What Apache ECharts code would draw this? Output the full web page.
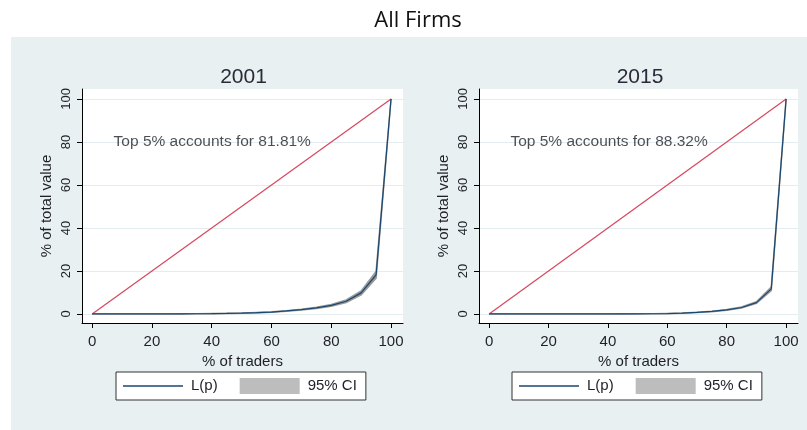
<!DOCTYPE html>
<html>
<head>
<meta charset="utf-8">
<script src="https://cdn.jsdelivr.net/npm/echarts@6/dist/echarts.min.js"></script>
<style>
  html, body { margin: 0; padding: 0; background: #fff; }
  #main { width: 807px; height: 430px; }
</style>
</head>
<body>
<div id="main"></div>
<script>
// 数据：% of traders (x), L(p) and 95% CI for each year
var pctTraders = [0, 5, 10, 15, 20, 25, 30, 35, 40, 45, 50, 55, 60, 65, 70, 75, 80, 85, 90, 95, 100];

var lp2001 = [0, 0, 0, 0, 0, 0.02, 0.05, 0.1, 0.15, 0.25, 0.38, 0.6, 0.9, 1.4, 2.0, 2.8, 4.0, 5.9, 9.8, 18.19, 100];
var lo2001 = [0, 0, 0, 0, 0, 0.01, 0.03, 0.07, 0.1, 0.18, 0.3, 0.5, 0.78, 1.25, 1.8, 2.5, 3.6, 5.3, 8.9, 16.6, 100];
var hi2001 = [0, 0, 0, 0, 0, 0.03, 0.07, 0.13, 0.2, 0.32, 0.46, 0.7, 1.02, 1.55, 2.2, 3.1, 4.4, 6.5, 10.7, 19.8, 100];

var lp2015 = [0, 0, 0, 0, 0, 0, 0, 0.01, 0.02, 0.04, 0.07, 0.1, 0.2, 0.4, 0.75, 1.2, 1.9, 3.0, 5.3, 11.68, 100];
var lo2015 = [0, 0, 0, 0, 0, 0, 0, 0, 0.01, 0.03, 0.05, 0.08, 0.16, 0.34, 0.66, 1.08, 1.72, 2.75, 4.9, 10.9, 100];
var hi2015 = [0, 0, 0, 0, 0, 0, 0, 0.02, 0.03, 0.05, 0.09, 0.12, 0.24, 0.46, 0.84, 1.32, 2.08, 3.25, 5.7, 12.5, 100];

var equalityX = [0, 100];
var equalityY = [0, 100];

var years = ['2001', '2015'];
var notes = ['Top 5% accounts for 81.81%', 'Top 5% accounts for 88.32%'];
var noteX = [7, 7];
var noteY = [80, 80];
var tickValues = [0, 20, 40, 60, 80, 100];

var chart = echarts.init(document.getElementById('main'));

var navy = '#1a476f';
var red = '#d6475f';
var ciGrey = '#bdbdbd';
var txt = '#1f1f28';
var font = 'Liberation Sans, Arial, sans-serif';

function pairs(xs, ys) {
    var out = [];
    for (var i = 0; i < xs.length; i++) out.push([xs[i], ys[i]]);
    return out;
}

// CI 带：上界 + 反向的下界，组成多边形
function bandRenderer(lo, hi) {
    return function (params, api) {
        var pts = [];
        for (var i = 0; i < pctTraders.length; i++) pts.push(api.coord([pctTraders[i], hi[i]]));
        for (var j = pctTraders.length - 1; j >= 0; j--) pts.push(api.coord([pctTraders[j], lo[j]]));
        return {
            type: 'polygon',
            shape: { points: pts },
            style: { fill: '#8f8f8f', stroke: '#9a9a9a', lineWidth: 1.5 }
        };
    };
}

var grids = [
    { left: 82, right: 404, top: 89, bottom: 107 },
    { left: 479, right: 9, top: 89, bottom: 107 }
];
var panelCenter = [238.5, 635];
var legendLeft = [116, 512];

var lpData = [lp2001, lp2015];
var loData = [lo2001, lo2015];
var hiData = [hi2001, hi2015];

var xAxes = [], yAxes = [], series = [], titles = [], legends = [];

titles.push({
    text: 'All Firms', left: 413, textAlign: 'center', top: 5,
    textStyle: { fontFamily: 'Open Sans, sans-serif', fontWeight: 'normal', fontSize: 22, color: '#111' }
});

for (var g = 0; g < 2; g++) {
    grids[g].show = true;
    grids[g].backgroundColor = '#fff';
    grids[g].borderWidth = 0;

    titles.push({
        text: years[g], left: panelCenter[g], textAlign: 'center', top: 62,
        textStyle: { fontFamily: font, fontWeight: 'normal', fontSize: 21, color: '#2a2a3a' }
    });

    xAxes.push({
        gridIndex: g, type: 'value', min: -3.4, max: 104,
        name: '% of traders', nameLocation: 'middle', nameGap: 27,
        nameTextStyle: { fontFamily: font, fontSize: 15, color: txt },
        axisLine: { onZero: false, lineStyle: { color: '#000', width: 1 } },
        axisTick: { length: 5, customValues: tickValues, lineStyle: { color: '#000' } },
        axisLabel: { customValues: tickValues, margin: 11, fontFamily: font, fontSize: 15, color: txt },
        splitLine: { show: false }
    });

    yAxes.push({
        gridIndex: g, type: 'value', min: -4.2, max: 104.6,
        name: '% of total value', nameLocation: 'middle', nameGap: 28,
        nameTextStyle: { fontFamily: font, fontSize: 15, color: txt },
        axisLine: { show: true, onZero: false, lineStyle: { color: '#000', width: 1 } },
        axisTick: { show: true, length: 5, customValues: tickValues, lineStyle: { color: '#000' } },
        axisLabel: { customValues: tickValues, rotate: 90, margin: 9, fontFamily: font, fontSize: 13, color: txt },
        splitLine: { show: true, lineStyle: { color: '#e3ecee', width: 1 } }
    });

    // line of equality
    series.push({
        name: 'equality', type: 'line', xAxisIndex: g, yAxisIndex: g,
        data: pairs(equalityX, equalityY), symbol: 'none', silent: true,
        lineStyle: { color: red, width: 1.2 }
    });
    // 95% CI band
    series.push({
        name: '95% CI', type: 'custom', xAxisIndex: g, yAxisIndex: g,
        data: [[0, 0]], silent: true, itemStyle: { color: ciGrey },
        renderItem: bandRenderer(loData[g], hiData[g])
    });
    // L(p)
    series.push({
        name: 'L(p)', type: 'line', xAxisIndex: g, yAxisIndex: g,
        data: pairs(pctTraders, lpData[g]), symbol: 'none', silent: true,
        lineStyle: { color: navy, width: 1.2 }, itemStyle: { color: navy }
    });
    // annotation
    series.push({
        name: 'note', type: 'scatter', xAxisIndex: g, yAxisIndex: g,
        data: [[noteX[g], noteY[g]]], symbolSize: 1, silent: true,
        itemStyle: { color: 'rgba(0,0,0,0)' },
        label: {
            show: true, position: 'right', distance: 0,
            formatter: notes[g], fontFamily: font, fontSize: 15.5, color: txt
        }
    });

    legends.push({
        left: legendLeft[g], top: 372,
        data: [
            { name: 'L(p)', icon: 'path://M0,0 M0,16 M0,7.25 L60,7.25 L60,8.75 L0,8.75 Z', itemStyle: { color: navy, borderWidth: 0 } },
            { name: '95% CI', icon: 'rect', itemStyle: { color: ciGrey, borderWidth: 0 } }
        ],
        selectedMode: false,
        itemWidth: 60, itemHeight: 16, itemGap: 22,
        padding: [6, 9, 6, 7],
        backgroundColor: '#fff', borderColor: '#333', borderWidth: 1, borderRadius: 0,
        textStyle: { fontFamily: font, fontSize: 15, color: txt, padding: [0, 0, 0, 3] }
    });
}

var option = {
    animation: false,
    backgroundColor: '#fff',
    graphic: [{
        type: 'rect', silent: true, z: -10,
        shape: { x: 11, y: 37, width: 796, height: 393 },
        style: { fill: '#e8f0f2' }
    }],
    title: titles,
    legend: legends,
    grid: grids,
    xAxis: xAxes,
    yAxis: yAxes,
    series: series
};

chart.setOption(option);
</script>
</body>
</html>
